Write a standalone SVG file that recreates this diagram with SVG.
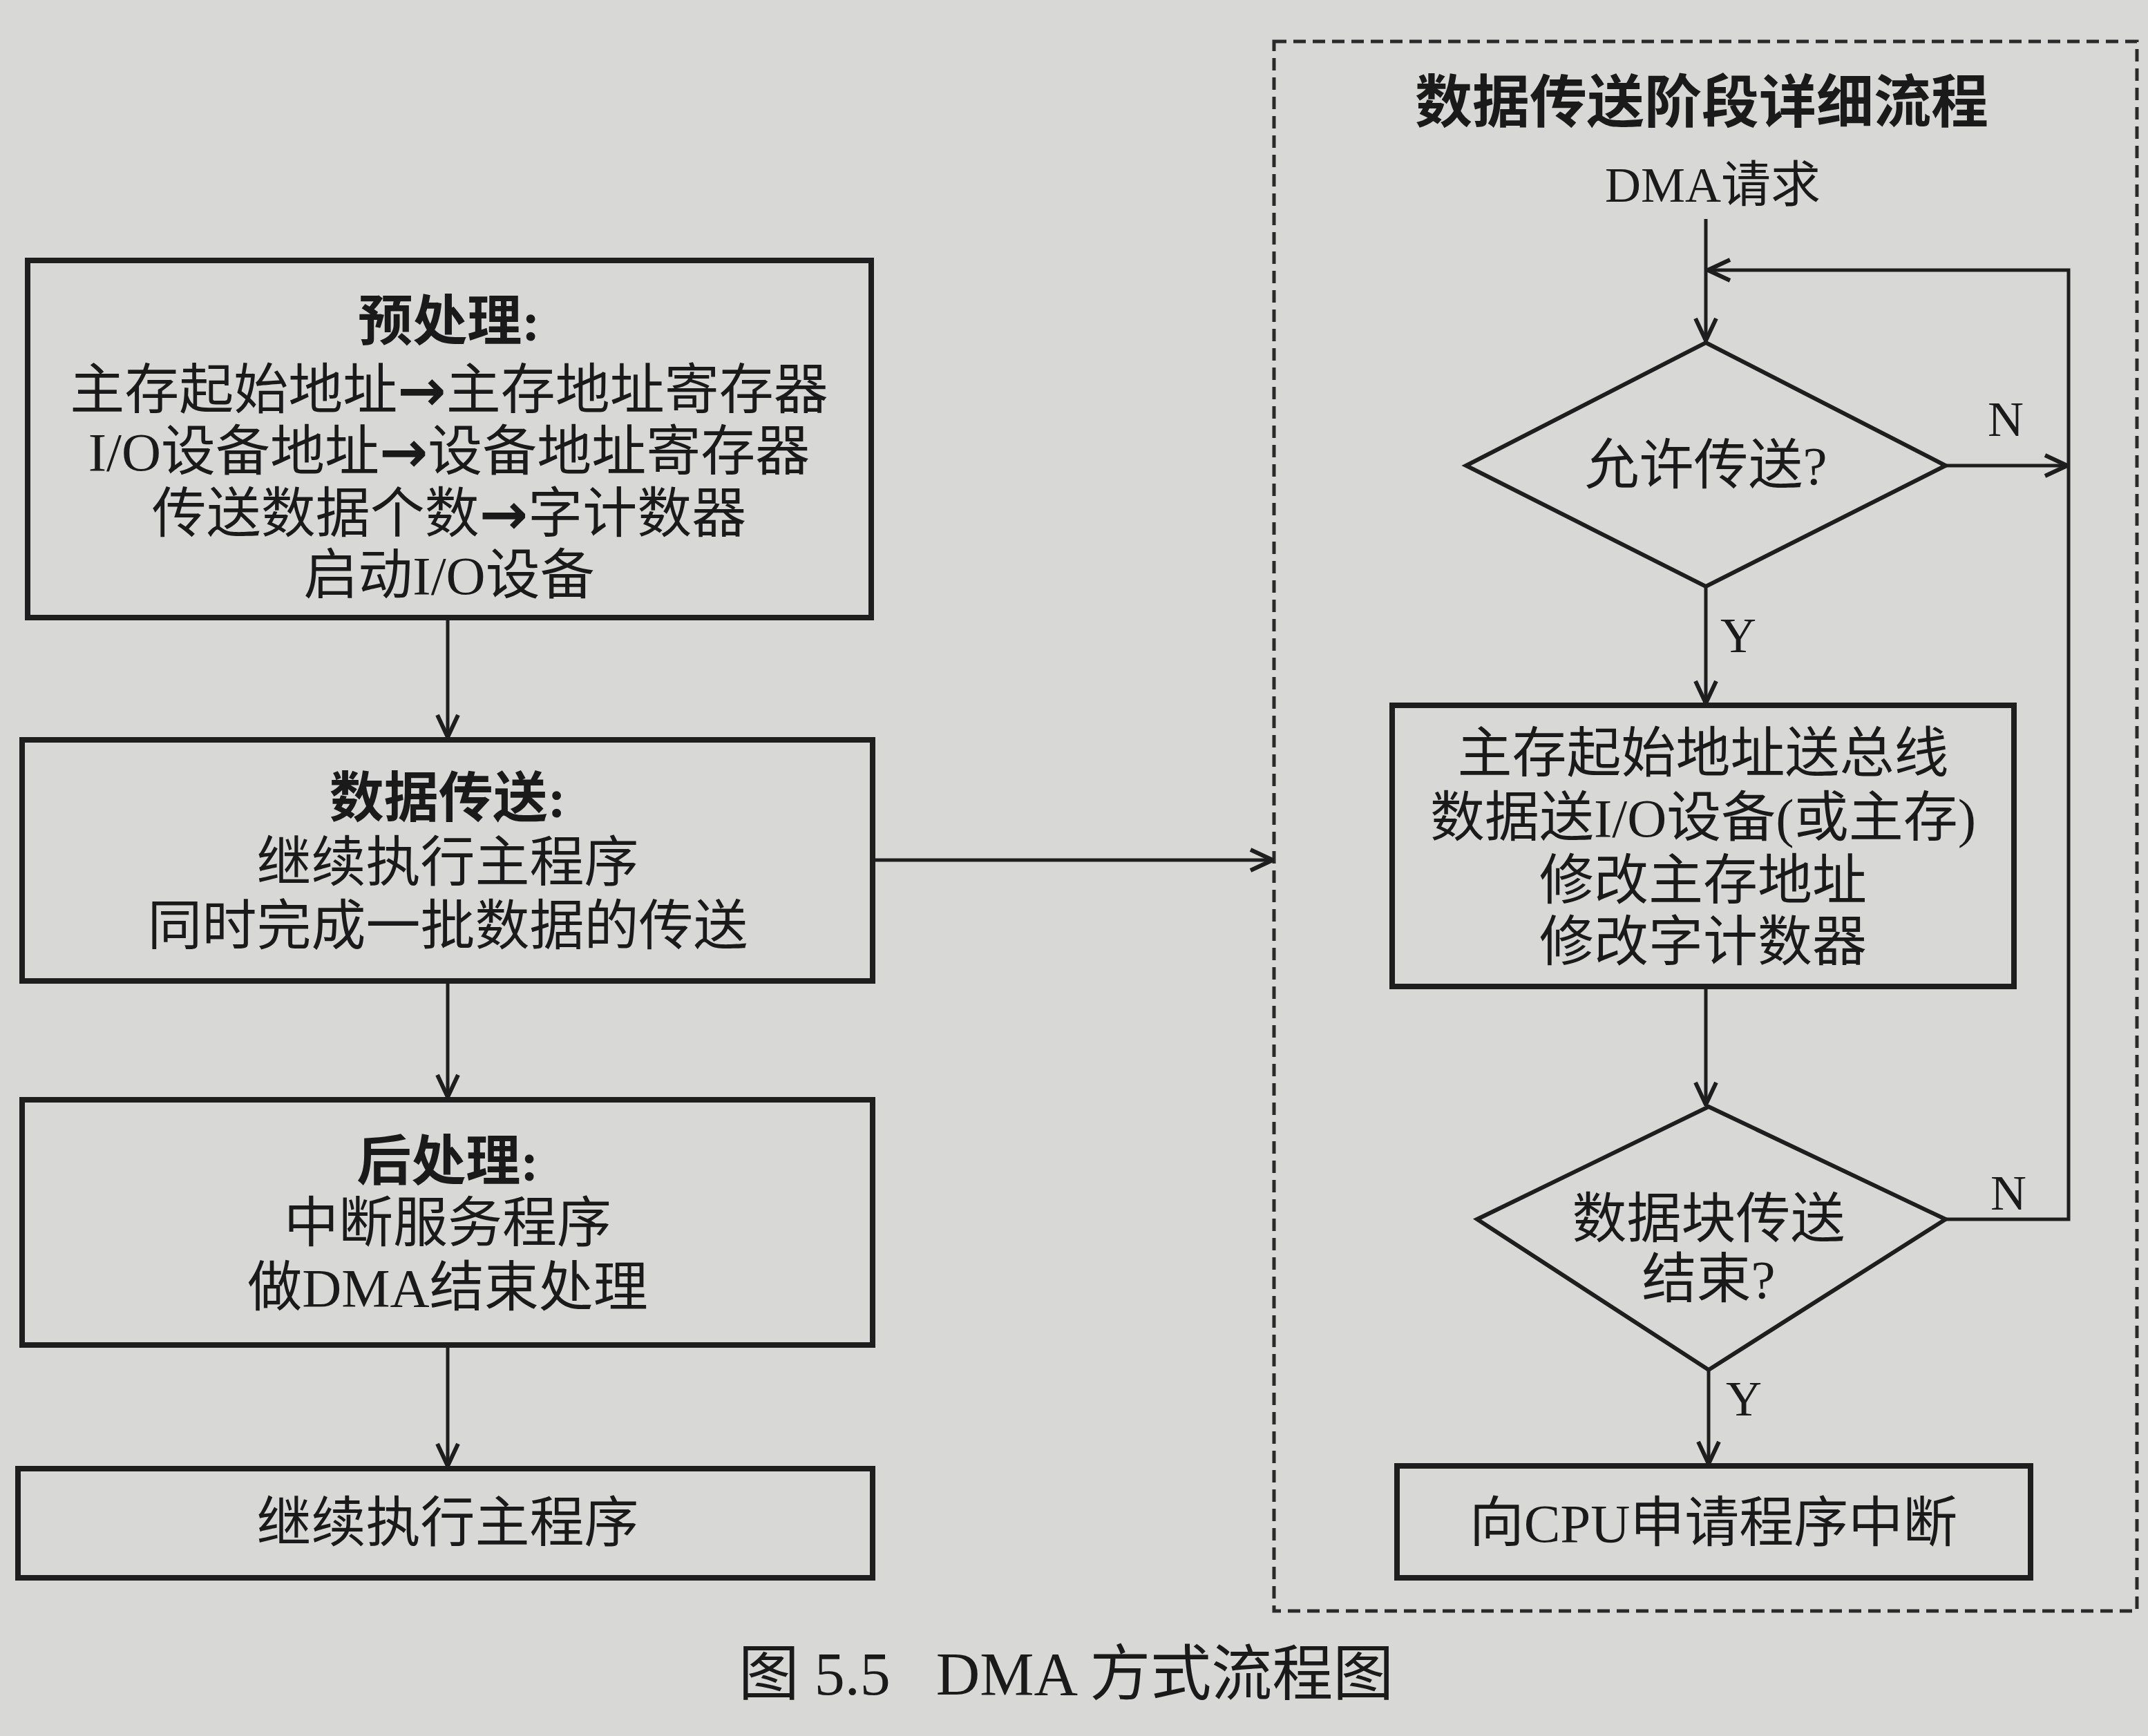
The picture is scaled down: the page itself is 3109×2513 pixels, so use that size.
<svg xmlns="http://www.w3.org/2000/svg" width="3109" height="2513" viewBox="0 0 3109 2513">
<defs>
<style>
.bg{fill:#d8d8d6}
.box{fill:none;stroke:#1e1e1e;stroke-width:8}
.dia{fill:none;stroke:#1e1e1e;stroke-width:6}
.ln{fill:none;stroke:#1e1e1e;stroke-width:5}
.dash{fill:none;stroke:#2a2a2a;stroke-width:5;stroke-dasharray:18 10}
.t{font-family:"Liberation Serif","Noto Sans CJK SC",serif;font-size:79px;fill:#1a1a1a;text-anchor:middle;dominant-baseline:central}
.b{font-weight:bold}
.ar{font-family:"DejaVu Sans",sans-serif;font-weight:bold;font-size:84px}
.lab{font-family:"Liberation Serif",serif;font-size:72px;fill:#1a1a1a;text-anchor:middle;dominant-baseline:central}
</style>
<marker id="arr" viewBox="0 0 40 40" refX="38" refY="20" markerWidth="40" markerHeight="40" markerUnits="userSpaceOnUse" orient="auto">
<path d="M6,5 L38,20 L6,35" fill="none" stroke="#1e1e1e" stroke-width="6"/>
</marker>
</defs>
<rect class="bg" x="0" y="0" width="3109" height="2513"/>

<rect class="dash" x="1844" y="60" width="1249" height="2272"/>

<g id="connectors">
<path class="ln" d="M648,894 V1067" marker-end="url(#arr)"/>
<path class="ln" d="M648,1420 V1588" marker-end="url(#arr)"/>
<path class="ln" d="M648,1947 V2122" marker-end="url(#arr)"/>
<path class="ln" d="M1263,1245 H1842" marker-end="url(#arr)"/>
<path class="ln" d="M2469,317 V493" marker-end="url(#arr)"/>
<path class="ln" d="M2816,1765 H2994 V391 H2472" marker-end="url(#arr)"/>
<path class="ln" d="M2816,674 H2992" marker-end="url(#arr)"/>
<path class="ln" d="M2469,849 V1018" marker-end="url(#arr)"/>
<path class="ln" d="M2469,1428 V1599" marker-end="url(#arr)"/>
<path class="ln" d="M2473,1983 V2119" marker-end="url(#arr)"/>
<text class="lab" x="2903" y="607">N</text>
<text class="lab" x="2516" y="920">Y</text>
<text class="lab" x="2907" y="1727">N</text>
<text class="lab" x="2524" y="2025">Y</text>
</g>

<g id="pre">
<rect class="box" x="40" y="377" width="1221" height="517"/>
<text class="t b" x="650" y="466">预处理:</text>
<text class="t" x="650" y="565">主存起始地址<tspan class="ar">→</tspan>主存地址寄存器</text>
<text class="t" x="650" y="654">I/O设备地址<tspan class="ar">→</tspan>设备地址寄存器</text>
<text class="t" x="650" y="744">传送数据个数<tspan class="ar">→</tspan>字计数器</text>
<text class="t" x="650" y="833">启动I/O设备</text>
</g>

<g id="transfer">
<rect class="box" x="32" y="1071" width="1231" height="349"/>
<text class="t b" x="648" y="1156">数据传送:</text>
<text class="t" x="648" y="1249">继续执行主程序</text>
<text class="t" x="648" y="1341">同时完成一批数据的传送</text>
</g>

<g id="post">
<rect class="box" x="32" y="1592" width="1231" height="355"/>
<text class="t b" x="648" y="1682">后处理:</text>
<text class="t" x="648" y="1771">中断服务程序</text>
<text class="t" x="648" y="1864">做DMA结束处理</text>
</g>

<g id="continue">
<rect class="box" x="26" y="2126" width="1237" height="158"/>
<text class="t" x="648" y="2205">继续执行主程序</text>
</g>

<g id="detail-title">
<text class="t b" x="2463" y="149" style="font-size:83px">数据传送阶段详细流程</text>
</g>

<g id="dma-request">
<text class="t" x="2479" y="268" style="font-size:72px">DMA请求</text>
</g>

<g id="allow">
<polygon class="dia" points="2469,496 2816,674 2469,849 2122,674"/>
<text class="t" x="2469" y="674">允许传送?</text>
</g>

<g id="ops">
<rect class="box" x="2015" y="1021" width="900" height="407"/>
<text class="t" x="2465" y="1091">主存起始地址送总线</text>
<text class="t" x="2465" y="1184">数据送I/O设备(或主存)</text>
<text class="t" x="2465" y="1275">修改主存地址</text>
<text class="t" x="2465" y="1364">修改字计数器</text>
</g>

<g id="block-end">
<polygon class="dia" points="2473,1602 2816,1765 2473,1983 2138,1765"/>
<text class="t" x="2473" y="1765">数据块传送</text>
<text class="t" x="2473" y="1852">结束?</text>
</g>

<g id="irq">
<rect class="box" x="2022" y="2122" width="917" height="162"/>
<text class="t" x="2480" y="2205">向CPU申请程序中断</text>
</g>

<text class="t" x="1543" y="2423" style="font-size:88px;white-space:pre">图 5.5   DMA 方式流程图</text>
</svg>
